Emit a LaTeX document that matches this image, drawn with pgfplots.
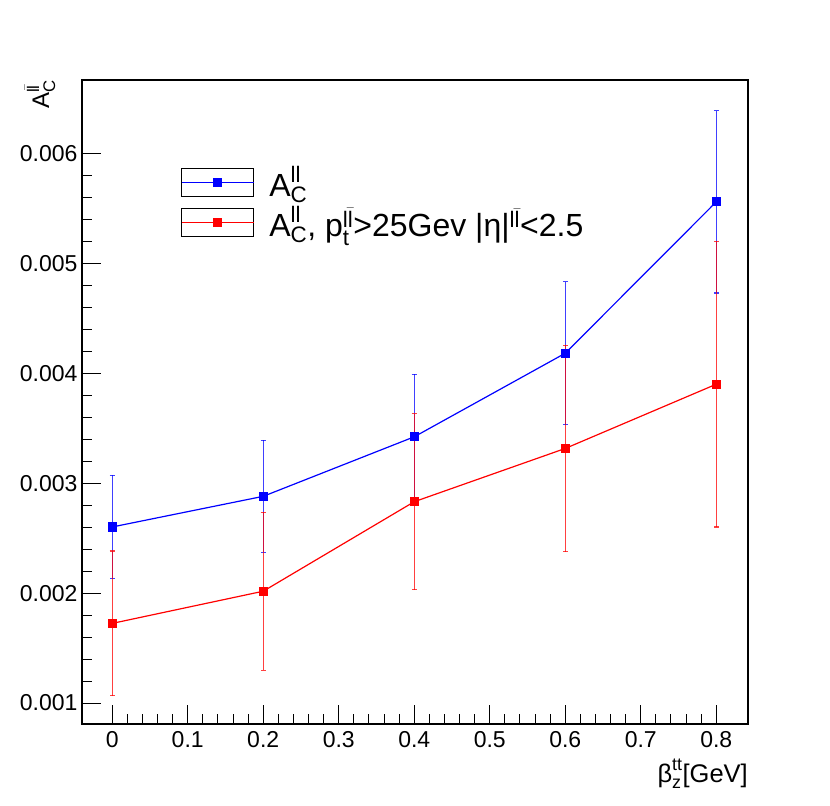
\documentclass[border=0pt]{standalone}
\usepackage{fontspec}
\usepackage{amsmath}
\setmainfont{Liberation Sans}
\usepackage{pgfplots}
\pgfplotsset{compat=1.18}
\definecolor{rblue}{RGB}{0,0,255}
\definecolor{rred}{RGB}{255,0,0}
\begin{document}
\begin{tikzpicture}
\path[use as bounding box, fill=white] (0,0) rectangle (830bp,806bp);
\begin{axis}[
  at={(82bp,82bp)}, anchor=south west,
  scale only axis, width=666bp, height=644bp,
  xmin=-0.04, xmax=0.842, ymin=0.000809, ymax=0.006673,
  axis line style={line width=1.2bp},
  tick style={black, line width=1bp},
  tick align=inside,
  xtick pos=bottom, ytick pos=left,
  major tick length=19bp, minor tick length=10bp,
  xtick={0,0.1,...,0.8},
  xticklabels={0,0.1,0.2,0.3,0.4,0.5,0.6,0.7,0.8},
  ytick={0.001,0.002,0.003,0.004,0.005,0.006},
  yticklabels={0.001,0.002,0.003,0.004,0.005,0.006},
  minor x tick num=4, minor y tick num=4,
  scaled y ticks=false, scaled x ticks=false,
  /pgf/number format/assume math mode=true,
  ticklabel style={font=\fontsize{23bp}{27bp}\selectfont},
  xticklabel style={yshift=-4bp},
  yticklabel style={xshift=-1bp},
  label style={inner sep=0pt},
  xlabel={$\text{β}^{\text{tt}}_{\text{z}}$[GeV]},
  xlabel style={font=\fontsize{25.5bp}{29bp}\selectfont, at={(axis description cs:1,-0.0545)}, anchor=north east},
  ylabel={$\text{A}^{\text{l}\bar{\text{l}}}_{\text{C}}$},
  ylabel style={font=\fontsize{24bp}{28bp}\selectfont, at={(axis description cs:-0.063,1)}, anchor=east, rotate=0},
  legend style={draw=none, fill=none, inner sep=0pt,
    at={(axis description cs:0.1486,0.866)}, anchor=north west,
    font=\fontsize{32bp}{38bp}\selectfont, row sep=8bp,
    nodes={inner sep=0pt}},
  legend cell align=left,
  legend image code/.code={
    \draw[black, line width=0.9bp, fill=white] (0bp,-14bp) rectangle (72bp,14bp);
    \draw[#1, mark repeat=2, mark phase=2] plot coordinates {(0bp,0bp) (36bp,0bp) (72bp,0bp)};
    \path (87bp,0bp);
  },
  error bars/error bar style={line width=1.4bp, opacity=0.75},
  error bars/error mark options={line width=1.2bp, mark size=2.5bp, rotate=90},
]
\addplot[rblue, line width=1.2bp, mark=square*, mark size=4bp, mark options={solid},
  error bars/.cd, y dir=both, y explicit]
  table[x=x, y=y, y error=e] {
x y e
0 0.002603 0.00047
0.2 0.002882 0.00051
0.4 0.003424 0.00057
0.6 0.004185 0.00065
0.8 0.005564 0.00083
};
\addlegendentry{$\text{A}^{\text{ll}}_{\text{C}}$}
\addplot[rred, line width=1.2bp, mark=square*, mark size=4bp, mark options={solid},
  error bars/.cd, y dir=both, y explicit]
  table[x=x, y=y, y error=e] {
x y e
0 0.001725 0.00066
0.2 0.002018 0.00072
0.4 0.002833 0.00080
0.6 0.003318 0.00094
0.8 0.003903 0.00130
};
\addlegendentry{$\text{A}^{\text{ll}}_{\text{C}}$, $\text{p}^{\text{l}\bar{\text{l}}}_{\text{t}}$>25Gev |η|$^{\text{l}\bar{\text{l}}}$<2.5}
\end{axis}
\end{tikzpicture}
\end{document}
